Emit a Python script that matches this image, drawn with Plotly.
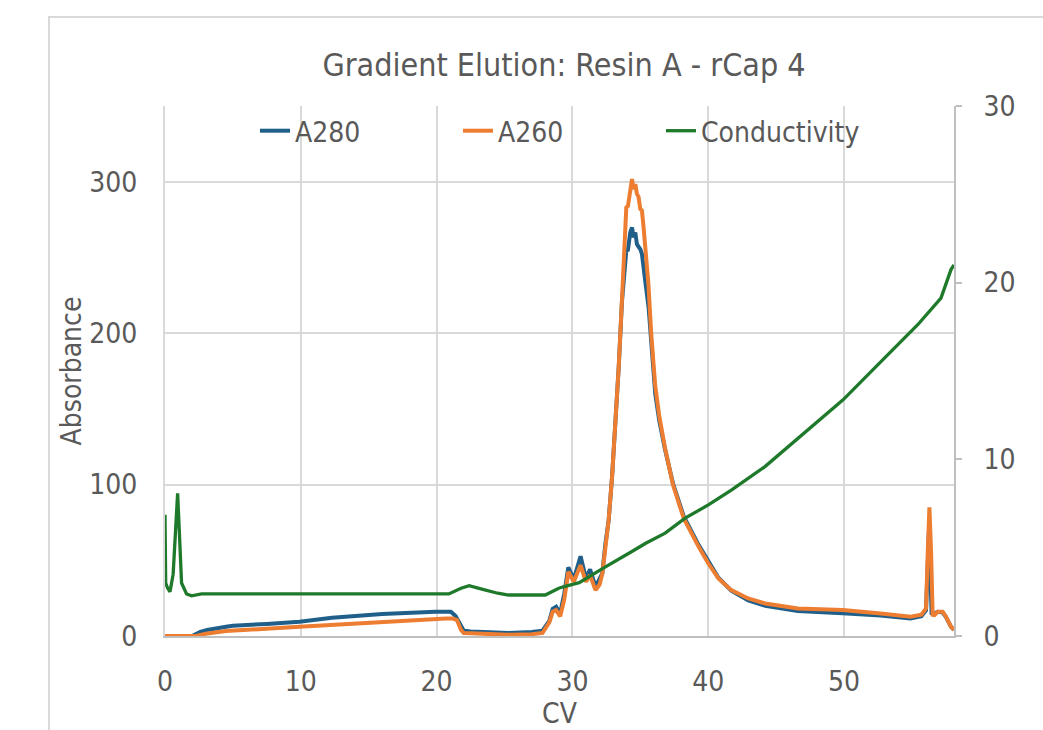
import plotly.graph_objects as go

# A280 trace (absorbance, left axis)
cv_a280 = [0, 2.0, 2.6, 3.1, 4.5, 5.0, 7.5, 9.9, 12.3, 16.0, 19.9, 21.05, 21.4, 21.7, 22.0,
           22.5, 24.5, 25.3, 27.0, 27.8, 28.3, 28.55, 28.8, 29.1, 29.4, 29.7, 30.1, 30.6,
           31.0, 31.3, 31.7, 32.0, 32.2, 32.43, 32.67, 32.92, 33.16, 33.41, 33.65, 33.8,
           33.97, 34.09, 34.26, 34.39, 34.51, 34.63, 34.75, 34.87, 35.0, 35.12, 35.24,
           35.36, 35.61, 35.85, 36.1, 36.4, 36.8, 37.4, 38.2, 39.3, 40.0, 40.75, 41.7,
           42.95, 44.2, 46.6, 49.9, 52.7, 54.9, 55.7, 56.04, 56.17, 56.25, 56.35, 56.45,
           56.55, 56.7, 56.9, 57.27, 57.51, 57.88, 58.1]
a280 = [0, 0, 2.8, 4.0, 6.1, 6.8, 8.0, 9.4, 12.1, 14.5, 16.0, 16.0, 13.2, 8.0, 3.5,
        3.0, 2.6, 2.0, 2.6, 3.5, 10, 18, 19.3, 15, 28, 45.3, 37.4, 52.7,
        38, 44, 32.5, 38, 41.3, 61, 76.5, 105, 138, 177.5, 221, 240,
        254.5, 255, 266.5, 269.8, 263.2, 266.5, 258.8, 257, 255.5, 252.3, 241.3,
        234.7, 217, 190.7, 160, 142, 124, 101, 79, 60, 49, 38.5, 30,
        23.5, 20, 16.5, 15, 13.5, 11.5, 13, 17, 45, 68, 45, 15,
        14.5, 15, 16, 15.5, 12.5, 6, 4]

# A260 trace (absorbance, left axis)
cv_a260 = [0, 2.3, 3.0, 4.5, 9.9, 16.0, 20.7, 21.2, 21.5, 21.8, 22.0, 22.5, 24.5, 25.3,
           27.0, 27.8, 28.3, 28.55, 28.8, 29.1, 29.4, 29.7, 30.1, 30.6, 31.0, 31.3, 31.7,
           32.0, 32.2, 32.43, 32.67, 32.92, 33.16, 33.41, 33.65, 33.8, 33.97, 34.09,
           34.26, 34.39, 34.51, 34.63, 34.75, 34.87, 35.0, 35.12, 35.24, 35.36, 35.6,
           35.8, 36.1, 36.4, 36.8, 37.4, 38.2, 39.3, 40.0, 40.75, 41.7, 42.95, 44.2,
           46.6, 49.9, 52.7, 54.9, 55.7, 56.04, 56.17, 56.29, 56.41, 56.53, 56.66, 56.9,
           57.27, 57.51, 57.88, 58.1]
a260 = [0, 0, 1.5, 3.3, 6.1, 9.4, 11.6, 11.5, 10.5, 4.0, 2.0, 1.8, 1.5, 0.8,
        1.2, 2.0, 9, 16, 17.1, 13, 24, 42.4, 35.8, 46.8, 35.8, 40.2, 30.3,
        34, 41, 61, 76.5, 105, 138, 177.5, 222, 255, 283, 284,
        296, 301.7, 295, 298.4, 292, 290, 282, 281, 270, 259, 232,
        200, 165, 145, 125, 100, 77.6, 58.9, 48, 38, 30.3, 24.8, 21.5,
        18.2, 17.1, 14.9, 12.7, 14, 18.2, 56, 85, 56, 14, 13.8, 16,
        16, 12.7, 6.1, 4]

# Conductivity trace (right axis)
cv_cond = [0, 0.05, 0.2, 0.37, 0.6, 0.8, 0.93, 1.05, 1.22, 1.59, 1.96, 2.69, 10, 20.9,
           21.8, 22.4, 23.4, 24.5, 25.3, 28.0, 29.0, 29.4, 30.5, 31.94, 32.4, 34.38,
           35.4, 36.83, 38.3, 40.01, 41.73, 44.18, 46.62, 49.93, 52.74, 55.43, 57.14,
           57.88, 58.1]
cond = [6.86, 3.0, 2.7, 2.5, 3.5, 6.0, 8.08, 6.0, 3.0, 2.38, 2.27, 2.38, 2.38, 2.38,
        2.70, 2.85, 2.64, 2.42, 2.32, 2.32, 2.7, 2.8, 3.02, 3.7, 3.9, 4.78,
        5.25, 5.82, 6.67, 7.42, 8.27, 9.59, 11.2, 13.37, 15.54, 17.62, 19.13,
        20.74, 21.0]

assert len(cv_a280) == len(a280)
assert len(cv_a260) == len(a260)
assert len(cv_cond) == len(cond)

FONT = "Liberation Sans Narrow, DejaVu Sans Condensed, Arial Narrow, sans-serif"
TXT = "#595959"
GRID = "#D9D9D9"
AXIS = "#BFBFBF"

fig = go.Figure()
fig.add_trace(go.Scatter(x=cv_a280, y=a280, name="A280", mode="lines",
                         line=dict(color="#1F5F8A", width=4)))
fig.add_trace(go.Scatter(x=cv_a260, y=a260, name="A260", mode="lines",
                         line=dict(color="#ED7D31", width=4)))
fig.add_trace(go.Scatter(x=cv_cond, y=cond, name="Conductivity", mode="lines",
                         line=dict(color="#1E7A2A", width=3.3), yaxis="y2"))

W, H = 1043, 730
L, R, T, B = 165, 89, 106, 94

fig.update_layout(
    width=W, height=H,
    margin=dict(l=L, r=R, t=T, b=B, pad=0),
    paper_bgcolor="white", plot_bgcolor="white",
    font=dict(family=FONT, color=TXT, size=28),
    title=dict(text="Gradient Elution: Resin A - rCap 4", xref="container",
               x=564 / W, xanchor="center", yref="container", y=1 - 65 / H,
               yanchor="middle", font=dict(size=32, color=TXT, family=FONT)),
    xaxis=dict(range=[0, 58.1], tick0=0, dtick=10, showgrid=True, gridcolor=GRID,
               gridwidth=2, zeroline=False, showline=True, linecolor=AXIS, linewidth=2,
               ticks="", ticklabelstandoff=19, automargin=False,
               tickfont=dict(size=28, color=TXT, family=FONT),
               title=dict(text="CV", standoff=30, font=dict(size=28, color=TXT, family=FONT))),
    yaxis=dict(range=[0, 350], tick0=0, dtick=100, showgrid=True, gridcolor=GRID,
               gridwidth=2, zeroline=False, showline=True, linecolor=GRID, linewidth=2,
               ticks="", ticklabelstandoff=20, automargin=False,
               tickfont=dict(size=28, color=TXT, family=FONT),
               title=dict(text="Absorbance", standoff=0,
                          font=dict(size=28, color=TXT, family=FONT))),
    yaxis2=dict(range=[0, 30], tick0=0, dtick=10, overlaying="y", side="right",
                showgrid=False, zeroline=False, showline=True, linecolor=AXIS,
                linewidth=2, ticks="outside", ticklen=6, tickwidth=2, tickcolor=AXIS,
                ticklabelstandoff=16, automargin=False,
                tickfont=dict(size=28, color=TXT, family=FONT)),
    legend=dict(orientation="h", x=(255 - L) / (W - L - R), xanchor="left",
                y=(H - B - 131) / (H - T - B), yanchor="middle",
                bgcolor="rgba(0,0,0,0)", font=dict(size=28, color=TXT, family=FONT),
                entrywidth=158, entrywidthmode="pixels", itemwidth=30),
    showlegend=True,
)

# Chart-area frame
fig.add_shape(type="rect", xref="paper", yref="paper",
              x0=(49 - L) / (W - L - R), x1=1.3,
              y0=-0.4, y1=(H - B - 17) / (H - T - B),
              line=dict(color=GRID, width=2), fillcolor="rgba(0,0,0,0)", layer="below")

fig.write_html("out.html")
